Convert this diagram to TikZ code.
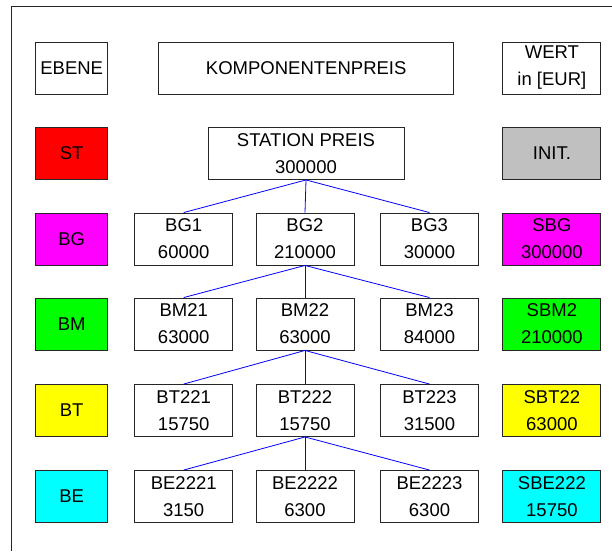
\documentclass[tikz,border=0pt]{standalone}
\usepackage{fontspec}
\setmainfont{Liberation Sans}
\usepackage{tikz}
\usepackage{xcolor}
\definecolor{initgrau}{RGB}{192,192,192}
\definecolor{strot}{RGB}{255,0,0}
\definecolor{bgmagenta}{RGB}{255,0,255}
\definecolor{bmgruen}{RGB}{0,255,0}
\definecolor{btgelb}{RGB}{255,255,0}
\definecolor{becyan}{RGB}{0,255,255}
\definecolor{kantenblau}{RGB}{0,0,255}

\begin{document}
\begin{tikzpicture}[x=1pt,y=-1pt,
    box/.style={draw=black!85,line width=0.9pt,minimum height=52pt,inner sep=0pt,
        align=center,font=\fontsize{18.5}{27}\selectfont},
    ebene/.style={box,minimum width=72pt},
    teil/.style={box,minimum width=98pt},
    kante/.style={kantenblau,line width=0.8pt}]
    \useasboundingbox (0,0) rectangle (612,551);

    % Draw frame
    \draw[line width=0.9pt,black!85] (11.7,551) -- (11.7,6.7) -- (612,6.7);

    % Header
    \node[ebene] (ebene) at (71.7,68) {EBENE};
    \node[box,minimum width=295pt] (komp) at (306.2,68) {KOMPONENTENPREIS};
    \node[teil] (wert) at (551.9,68) {WERT\\in [EUR]};

    % Ebenen
    \node[ebene,fill=strot] (st) at (71.7,153.5) {ST};
    \node[ebene,fill=bgmagenta] (bg) at (71.7,239) {BG};
    \node[ebene,fill=bmgruen] (bm) at (71.7,324) {BM};
    \node[ebene,fill=btgelb] (bt) at (71.7,410.5) {BT};
    \node[ebene,fill=becyan] (be) at (71.7,496.5) {BE};

    % Komponenten
    \node[box,minimum width=196pt] (station) at (306,153.5) {STATION PREIS\\300000};
    \node[teil] (bg1) at (183.7,239) {BG1\\60000};
    \node[teil] (bg2) at (305,239) {BG2\\210000};
    \node[teil] (bg3) at (429.5,239) {BG3\\30000};
    \node[teil] (bm21) at (183.7,324) {BM21\\63000};
    \node[teil] (bm22) at (305,324) {BM22\\63000};
    \node[teil] (bm23) at (429.5,324) {BM23\\84000};
    \node[teil] (bt221) at (183.7,410.5) {BT221\\15750};
    \node[teil] (bt222) at (305,410.5) {BT222\\15750};
    \node[teil] (bt223) at (429.5,410.5) {BT223\\31500};
    \node[teil] (be2221) at (183.7,496.5) {BE2221\\3150};
    \node[teil] (be2222) at (305,496.5) {BE2222\\6300};
    \node[teil] (be2223) at (429.5,496.5) {BE2223\\6300};

    % Werte
    \node[teil,fill=initgrau] (init) at (551.9,153.5) {INIT.};
    \node[teil,fill=bgmagenta] (sbg) at (551.9,239) {SBG\\300000};
    \node[teil,fill=bmgruen] (sbm) at (551.9,324) {SBM2\\210000};
    \node[teil,fill=btgelb] (sbt) at (551.9,410.5) {SBT22\\63000};
    \node[teil,fill=becyan] (sbe) at (551.9,496.5) {SBE222\\15750};

    % Verbindungen
    \draw[kante] (station.south) -- (bg1.north);
    \draw[kante] (station.south) -- (bg2.north);
    \draw[kante] (station.south) -- (bg3.north);
    \draw[kante] (bg2.south) -- (bm21.north);
    \draw[kante] (bg2.south) -- (bm22.north);
    \draw[kante] (bg2.south) -- (bm23.north);
    \draw[kante] (bm22.south) -- (bt221.north);
    \draw[kante] (bm22.south) -- (bt222.north);
    \draw[kante] (bm22.south) -- (bt223.north);
    \draw[kante] (bt222.south) -- (be2221.north);
    \draw[kante] (bt222.south) -- (be2222.north);
    \draw[kante] (bt222.south) -- (be2223.north);
\end{tikzpicture}
\end{document}
